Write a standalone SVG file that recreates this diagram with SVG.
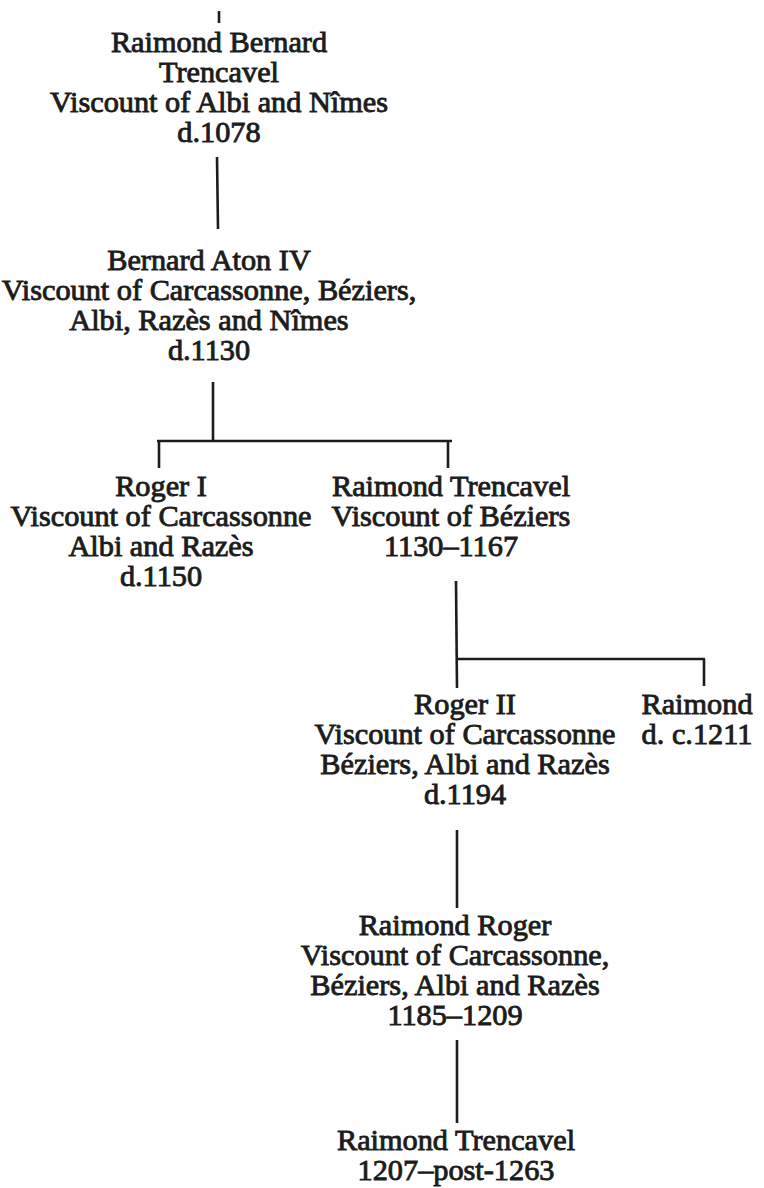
<svg xmlns="http://www.w3.org/2000/svg" width="764" height="1188" viewBox="0 0 764 1188">
<style>
text{font-family:"Liberation Serif","Times New Roman",serif;font-size:30.3px;fill:#1c1c1c;stroke:#1c1c1c;stroke-width:0.9;text-anchor:middle}
.c line{stroke:#1c1c1c;stroke-width:2.6;stroke-linecap:butt}
</style>
<rect width="764" height="1188" fill="#ffffff"/>
<g class="c" id="connectors">
<line x1="219" y1="11" x2="219" y2="23"/>
<line x1="217" y1="157" x2="218" y2="229"/>
<line x1="213" y1="382" x2="213" y2="441"/>
<line x1="157" y1="441" x2="452" y2="441"/>
<line x1="159" y1="441" x2="159" y2="468"/>
<line x1="448" y1="441" x2="448" y2="468"/>
<line x1="456" y1="581" x2="457" y2="688"/>
<line x1="456" y1="659" x2="705" y2="659"/>
<line x1="704" y1="659" x2="704" y2="686"/>
<line x1="457" y1="830" x2="457" y2="908"/>
<line x1="457" y1="1040" x2="457" y2="1123"/>
</g>
<g id="n1">
<text x="219" y="52">Raimond Bernard</text>
<text x="219" y="82">Trencavel</text>
<text x="219" y="112">Viscount of Albi and Nîmes</text>
<text x="219" y="142">d.1078</text>
</g>
<g id="n2">
<text x="209" y="270">Bernard Aton IV</text>
<text x="209" y="300">Viscount of Carcassonne, Béziers,</text>
<text x="209" y="330">Albi, Razès and Nîmes</text>
<text x="209" y="360">d.1130</text>
</g>
<g id="n3">
<text x="161" y="496">Roger I</text>
<text x="161" y="526">Viscount of Carcassonne</text>
<text x="161" y="556">Albi and Razès</text>
<text x="161" y="586">d.1150</text>
</g>
<g id="n4">
<text x="451" y="496">Raimond Trencavel</text>
<text x="451" y="526">Viscount of Béziers</text>
<text x="451" y="556">1130–1167</text>
</g>
<g id="n5">
<text x="465" y="714">Roger II</text>
<text x="465" y="744">Viscount of Carcassonne</text>
<text x="465" y="774">Béziers, Albi and Razès</text>
<text x="465" y="804">d.1194</text>
</g>
<g id="n6">
<text x="697" y="714">Raimond</text>
<text x="697" y="744">d. c.1211</text>
</g>
<g id="n7">
<text x="455" y="935">Raimond Roger</text>
<text x="455" y="965">Viscount of Carcassonne,</text>
<text x="455" y="995">Béziers, Albi and Razès</text>
<text x="455" y="1025">1185–1209</text>
</g>
<g id="n8">
<text x="456" y="1150">Raimond Trencavel</text>
<text x="456" y="1180">1207–post-1263</text>
</g>
</svg>
